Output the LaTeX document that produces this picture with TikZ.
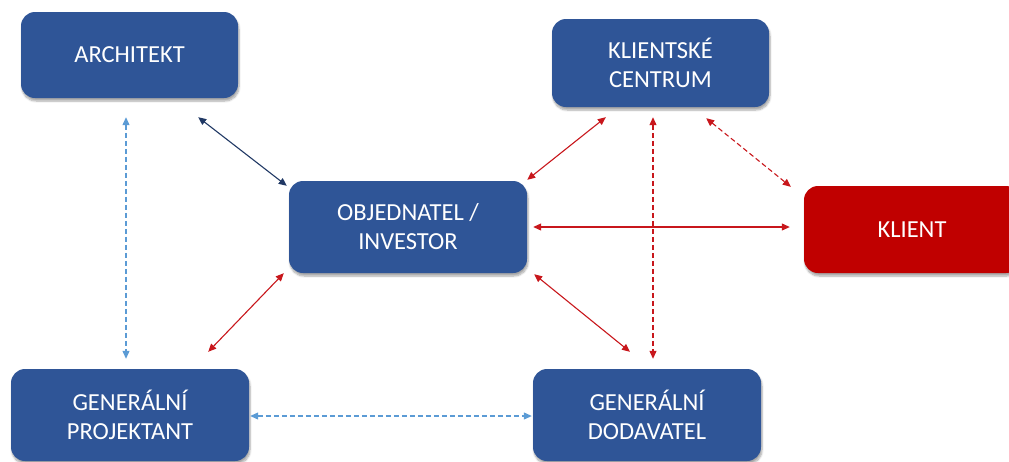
\documentclass[tikz,border=0pt]{standalone}
\usepackage{fontspec}
\setmainfont{Carlito}
\usetikzlibrary{arrows.meta,calc,shadows.blur}

\definecolor{boxblue}{HTML}{2F5597}
\definecolor{boxred}{HTML}{C00000}
\definecolor{navyline}{HTML}{203864}
\definecolor{lightline}{HTML}{5B9BD5}
\definecolor{redline}{HTML}{C8171C}

\tikzset{
  headtri/.tip={Triangle[length=8pt,width=7pt]},
  card/.style={rectangle, rounded corners=14pt, fill=boxblue, text=white,
    align=center, inner sep=0pt, font=\fontsize{24.5}{29}\selectfont,
    blur shadow={shadow xshift=1pt, shadow yshift=-3pt, shadow blur steps=6, shadow opacity=35}},
  redcard/.style={card, fill=boxred},
  link/.style={line width=1.1pt, {headtri}-{headtri}},
  navylink/.style={link, draw=navyline},
  redlink/.style={link, draw=redline},
  reddash/.style={redlink, dash pattern=on 5pt off 3pt},
  bluedash/.style={link, draw=lightline, dash pattern=on 5pt off 3pt},
}

\begin{document}
\begin{tikzpicture}[x=1pt,y=-1pt]
  \useasboundingbox (0,0) rectangle (1009,461);

  % boxes
  \node[card, minimum width=217pt, minimum height=86pt] (arch) at (129.5,55) {ARCHITEKT};
  \node[card, minimum width=217pt, minimum height=88pt] (kc) at (660.5,63) {KLIENTSKÉ\\CENTRUM};
  \node[card, minimum width=238pt, minimum height=92pt] (obj) at (408,227) {OBJEDNATEL /\\INVESTOR};
  \node[redcard, minimum width=216pt, minimum height=87pt] (klient) at (912,229.5) {KLIENT};
  \node[card, minimum width=238pt, minimum height=92pt] (proj) at (130,415) {GENERÁLNÍ\\PROJEKTANT};
  \node[card, minimum width=228pt, minimum height=92pt] (dod) at (647,415) {GENERÁLNÍ\\DODAVATEL};

  % connectors
  \draw[bluedash] ($(arch.south)+(-3.5,19)$) -- ($(proj.north)+(-4,-10)$);
  \draw[navylink] ($(arch.south east)+(-40,19)$) -- ($(obj.north west)+(-2,5)$);
  \draw[redlink] ($(kc.south west)+(54,10)$) -- ($(obj.north east)+(0,-1)$);
  \draw[reddash] ($(kc.south)+(-7.5,10)$) -- ($(dod.north)+(6,-10)$);
  \draw[reddash] ($(kc.south east)+(-63,11)$) -- ($(klient.north west)+(-13,1)$);
  \draw[redlink] ($(obj.east)+(6,0)$) -- ($(klient.west)+(-14,-2.5)$);
  \draw[redlink] ($(obj.south west)+(-5,0)$) -- ($(proj.north east)+(-41,-17)$);
  \draw[redlink] ($(obj.south east)+(7,1)$) -- ($(dod.north)+(-17,-17)$);
  \draw[bluedash] ($(proj.east)+(1,1)$) -- ($(dod.west)+(-1,1)$);
\end{tikzpicture}
\end{document}
